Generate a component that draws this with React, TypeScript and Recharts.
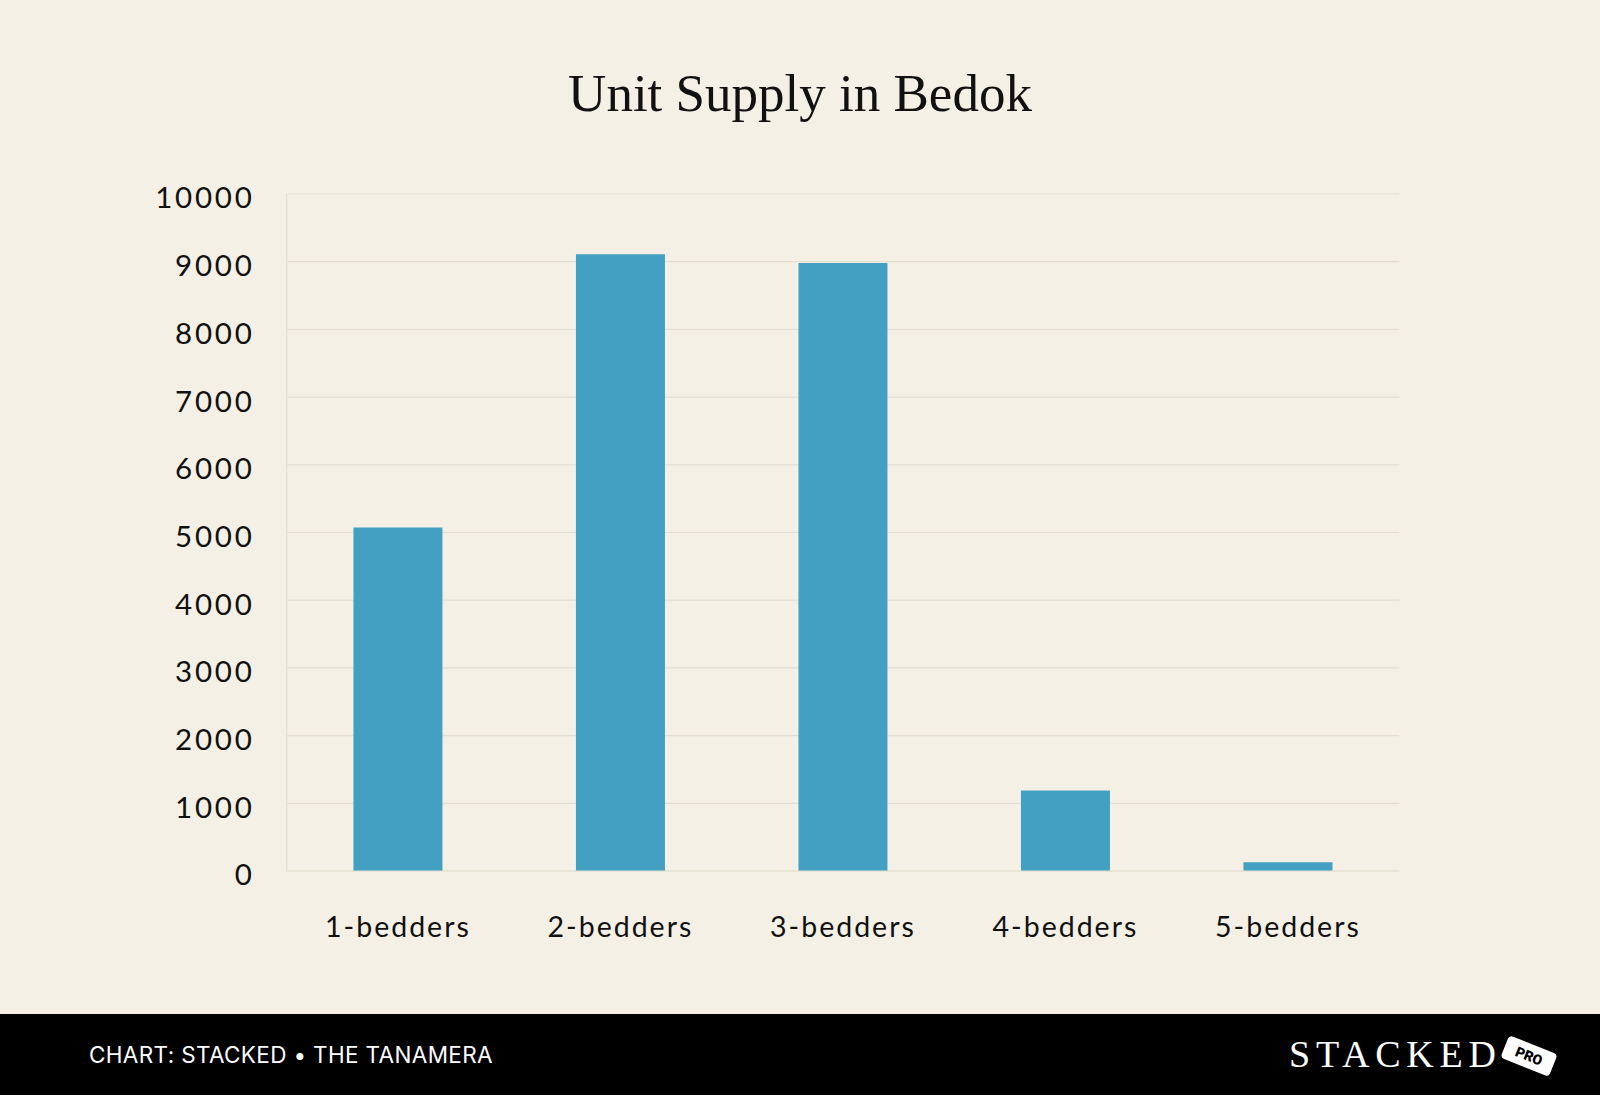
import React from "react";
import { BarChart, Bar, XAxis, YAxis, CartesianGrid } from "recharts";

const categories = ["1-bedders", "2-bedders", "3-bedders", "4-bedders", "5-bedders"];
const units = [5075, 9110, 8980, 1190, 130];
const yTicks = [0, 1000, 2000, 3000, 4000, 5000, 6000, 7000, 8000, 9000, 10000];

const data = categories.map((c, i) => ({ name: c, units: units[i] }));

const BG = "#F4F0E5";
const GRID = "#E4DFD2";
const BAR = "#43A0C2";
const SANS = "Lato, 'Noto Sans', sans-serif";

export default function App() {
  return (
    <div style={{ position: "absolute", left: 0, top: 0, width: 1600, height: 1095, background: BG, overflow: "hidden" }}>
      <div
        style={{
          position: "absolute",
          left: 0,
          top: 58,
          width: 1600,
          textAlign: "center",
          fontFamily: "'Liberation Serif', 'DejaVu Serif', serif",
          fontSize: 53,
          color: "#111",
          lineHeight: "70px",
        }}
      >
        Unit Supply in Bedok
      </div>
      <div style={{ position: "absolute", left: 0, top: 0 }}>
        <BarChart
          width={1600}
          height={1014}
          data={data}
          margin={{ top: 194, right: 200.8, bottom: 83, left: 206.7 }}
          barCategoryGap="30%"
        >
          <CartesianGrid vertical={false} stroke={GRID} strokeWidth={1.2} />
          <XAxis
            dataKey="name"
            height={60}
            tickLine={false}
            tickSize={0}
            tickMargin={46}
            axisLine={{ stroke: GRID, strokeWidth: 1.2 }}
            tick={{ fill: "#111", fontSize: 28.5, fontFamily: SANS, letterSpacing: 2 }}
          />
          <YAxis
            width={80}
            domain={[0, 10000]}
            ticks={yTicks}
            interval={0}
            tickLine={false}
            tickSize={0}
            tickMargin={32}
            axisLine={{ stroke: GRID, strokeWidth: 1.2 }}
            tick={{ fill: "#111", fontSize: 29.5, fontFamily: SANS, letterSpacing: 2.8, dy: 4 }}
          />
          <Bar dataKey="units" fill={BAR} isAnimationActive={false} />
        </BarChart>
      </div>
      <div style={{ position: "absolute", left: 0, top: 1014, width: 1600, height: 81, background: "#000" }}>
        <div
          style={{
            position: "absolute",
            left: 89,
            top: 27,
            fontFamily: "Inter, Roboto, sans-serif",
            fontSize: 22.5,
            letterSpacing: 0.35,
            color: "#fff",
            lineHeight: "28px",
            whiteSpace: "nowrap",
          }}
        >
          CHART: STACKED • THE TANAMERA
        </div>
        <div
          style={{
            position: "absolute",
            left: 1289,
            top: 18,
            fontFamily: "'Liberation Serif', 'DejaVu Serif', serif",
            fontSize: 38,
            color: "#fff",
            letterSpacing: 5.8,
            lineHeight: "44px",
            whiteSpace: "nowrap",
          }}
        >
          STACKED
        </div>
        <div
          style={{
            position: "absolute",
            left: 1503,
            top: 30,
            width: 52,
            height: 24,
            background: "#fff",
            borderRadius: 4,
            transform: "rotate(22deg)",
            color: "#000",
            fontFamily: "Roboto, Arial, sans-serif",
            fontWeight: 900,
            fontSize: 14,
            lineHeight: "24px",
            textAlign: "center",
          }}
        >
          PRO
        </div>
      </div>
    </div>
  );
}
